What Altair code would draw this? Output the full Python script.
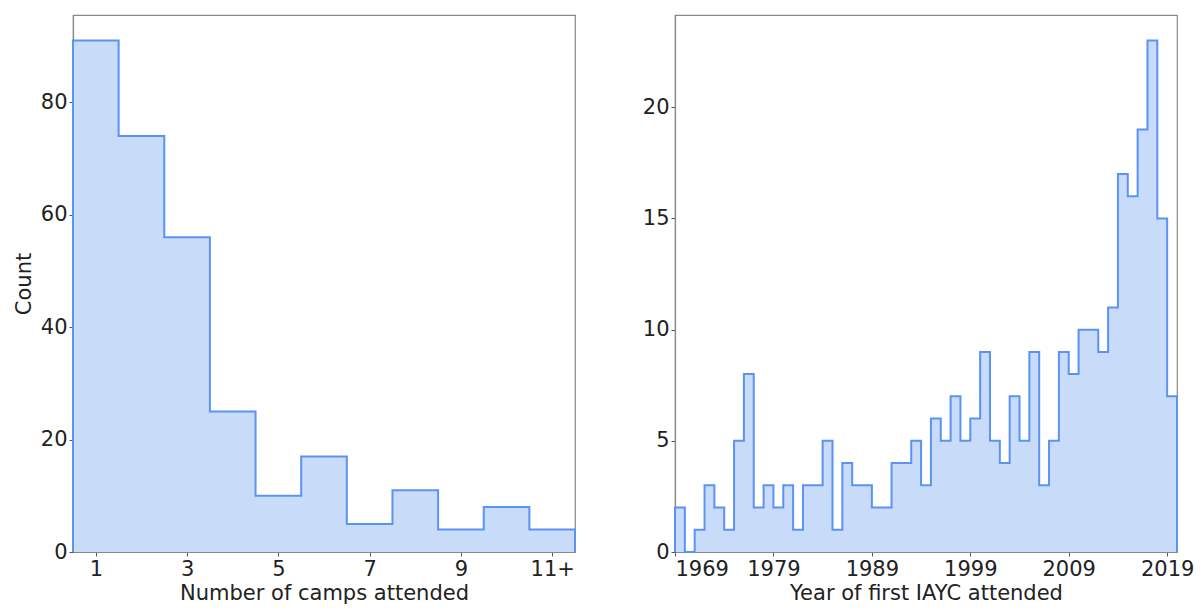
import altair as alt
import pandas as pd

# ---- data ----
camp_bins = [1, 2, 3, 4, 5, 6, 7, 8, 9, 10, 11]
camp_counts = [91, 74, 56, 25, 10, 17, 5, 11, 4, 8, 4]

year_bins = [1969, 1970, 1971, 1972, 1973, 1974, 1975, 1976, 1977, 1978,
             1979, 1980, 1981, 1982, 1983, 1984, 1985, 1986, 1987, 1988,
             1989, 1990, 1991, 1992, 1993, 1994, 1995, 1996, 1997, 1998,
             1999, 2000, 2001, 2002, 2003, 2004, 2005, 2006, 2007, 2008,
             2009, 2010, 2011, 2012, 2013, 2014, 2015, 2016, 2017, 2018,
             2019]
year_counts = [2, 0, 1, 3, 2, 1, 5, 8, 2, 3,
               2, 3, 1, 3, 3, 5, 1, 4, 3, 3,
               2, 2, 4, 4, 5, 3, 6, 5, 7, 5,
               6, 9, 5, 4, 7, 5, 9, 3, 5, 9,
               8, 10, 10, 9, 11, 17, 16, 19, 23, 15,
               7]

camp_ticks = [1, 3, 5, 7, 9, 11]
year_ticks = [1969, 1979, 1989, 1999, 2009, 2019]

FILL = "#c8dbf8"
EDGE = "#5b93f5"
FONT = "DejaVu Sans"
PANEL_W = 502
PANEL_H = 537


def step_frame(lefts, counts, width):
    xs = [lefts[0]] + list(lefts) + [lefts[-1] + width, lefts[-1] + width]
    ys = [0] + list(counts) + [counts[-1], 0]
    return pd.DataFrame({"x": xs, "y": ys, "order": list(range(len(xs)))})


def area_frame(lefts, counts, width):
    xs = list(lefts) + [lefts[-1] + width]
    ys = list(counts) + [counts[-1]]
    return pd.DataFrame({"x": xs, "y": ys, "base": [0] * len(xs)})


def hist_panel(lefts, counts, width, xdom, ydom, xticks, yticks, xtitle, ytitle, label_expr=None):
    df = step_frame(lefts, counts, width)
    adf = area_frame(lefts, counts, width)
    xaxis_kwargs = dict(values=xticks, title=xtitle, format="d")
    if label_expr:
        xaxis_kwargs["labelExpr"] = label_expr
    x = alt.X("x:Q", scale=alt.Scale(domain=xdom, nice=False, zero=False),
              axis=alt.Axis(**xaxis_kwargs))
    yaxis = alt.Axis(values=yticks, title=ytitle) if ytitle else alt.Axis(values=yticks, title=None)
    y = alt.Y("y:Q", scale=alt.Scale(domain=ydom, nice=False), axis=yaxis, stack=None)
    area = alt.Chart(adf).mark_area(interpolate="step-after", color=FILL, opacity=1).encode(
        x=x, y=y, y2="base:Q")
    line = alt.Chart(df).mark_line(interpolate="step-after", color=EDGE, strokeWidth=2,
                                   clip=False).encode(x=x, y=y, order="order:Q")
    return (area + line).properties(width=PANEL_W, height=PANEL_H)


left_x0 = [b - 0.5 for b in camp_bins]
left = hist_panel(left_x0, camp_counts, 1, [0.5, 11.5], [0, 95.55], camp_ticks,
                  [0, 20, 40, 60, 80], "Number of camps attended", "Count",
                  label_expr="datum.value == 11 ? '11+' : datum.label")
right = hist_panel(year_bins, year_counts, 1, [1969, 2020], [0, 24.15], year_ticks,
                   [0, 5, 10, 15, 20], "Year of first IAYC attended", None)

chart = alt.hconcat(left, right, spacing=61).properties(
    padding={"left": 4, "top": 6, "right": 0, "bottom": 0}
).configure_view(stroke="#888888", strokeWidth=1.2).configure_axis(
    grid=False, domainColor="#888888", domainWidth=1.2, tickColor="#555555", tickSize=4,
    labelFont=FONT, titleFont=FONT, labelFontSize=21, titleFontSize=21,
    labelColor="#222222", titleColor="#222222", titleFontWeight="normal",
    labelPadding=2, titlePadding=3
).configure_axisY(titlePadding=6)

chart.save("out.html", embed_options={"renderer": "svg", "actions": False})
